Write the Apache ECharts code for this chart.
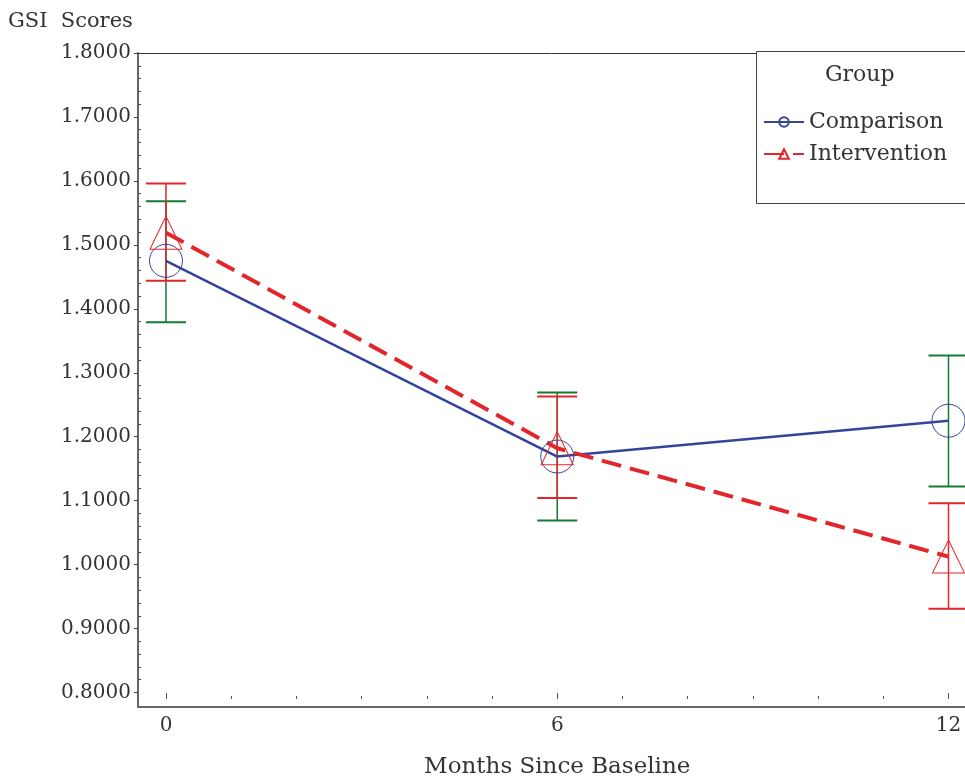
<!DOCTYPE html>
<html>
<head>
	<meta charset="utf-8">
	<script src="https://cdn.jsdelivr.net/npm/echarts@6/dist/echarts.min.js"></script>
</head>
<body style="margin:0;background:#fff;">
	<div id="main" style="width:965px;height:784px;"></div>
	<script type="text/javascript">
        // data
        var months = [0, 6, 12];
        var groupNames = ['Comparison', 'Intervention'];
        var compMean = [1.475, 1.169, 1.225];
        var compLow = [1.379, 1.069, 1.122];
        var compHigh = [1.568, 1.269, 1.327];
        var intMean = [1.519, 1.182, 1.0125];
        var intLow = [1.444, 1.104, 0.931];
        var intHigh = [1.596, 1.263, 1.096];

        var FONT = 'DejaVu Serif';
        var BLUE = '#34449a', RED = '#e3262b', GREEN = '#167a30';

        function pairs(xs, ys) {
            return xs.map(function (x, i) { return [x, ys[i]]; });
        }
        function triples(xs, lo, hi) {
            return xs.map(function (x, i) { return [x, lo[i], hi[i]]; });
        }

        // error bar: stem + two caps
        function renderBar(params, api) {
            var x = api.value(0);
            var pLo = api.coord([x, api.value(1)]);
            var pHi = api.coord([x, api.value(2)]);
            var w = 20;
            var c = api.visual('color');
            return {
                type: 'group',
                children: [
                    {type: 'line', shape: {x1: pHi[0], y1: pHi[1], x2: pLo[0], y2: pLo[1]}, style: {stroke: c, lineWidth: 1.5}},
                    {type: 'line', shape: {x1: pHi[0] - w, y1: pHi[1], x2: pHi[0] + w, y2: pHi[1]}, style: {stroke: c, lineWidth: 2}},
                    {type: 'line', shape: {x1: pLo[0] - w, y1: pLo[1], x2: pLo[0] + w, y2: pLo[1]}, style: {stroke: c, lineWidth: 2}}
                ]
            };
        }

        var myChart = echarts.init(document.getElementById('main'));
        var option = {
            animation: false,
            graphic: [
                {type: 'text', left: 8, top: 11, z: 100, style: {text: 'GSI  Scores', font: '21px "DejaVu Serif"', fill: '#333'}},
                // legend frame runs off the right edge like the original
                {type: 'rect', z: 4, shape: {x: 756.5, y: 51.5, width: 260, height: 152},
                    style: {fill: '#fff', stroke: '#444', lineWidth: 1}},
                {type: 'text', left: 825, top: 64, z: 100, style: {text: 'Group', font: '22px "DejaVu Serif"', fill: '#333'}}
            ],
            legend: {
                data: groupNames,
                orient: 'vertical',
                left: 756,
                top: 51,
                z: 6,
                padding: [60, 10, 39, 7],
                itemGap: 10,
                itemWidth: 40,
                itemHeight: 12,
                textStyle: {fontFamily: FONT, fontSize: 22, color: '#333', lineHeight: 22}
            },
            grid: [
                {left: 138, top: 53, right: 0, bottom: 77},
                {left: 166, top: 53, right: 16.5, bottom: 81},
                {left: 138, top: 53, right: 16.5, bottom: 91.5}
            ],
            xAxis: [
                {gridIndex: 0, type: 'value', min: -0.429, max: 12.253,
                    axisLine: {show: true, onZero: false, lineStyle: {color: '#666', width: 2}},
                    axisTick: {show: false}, axisLabel: {show: false}, splitLine: {show: false}},
                {gridIndex: 1, type: 'value', min: 0, max: 12, interval: 6,
                    axisLine: {show: false},
                    axisTick: {show: true, inside: true, length: 6, lineStyle: {color: '#555'}},
                    minorTick: {show: true, splitNumber: 6, length: 3, lineStyle: {color: '#555'}},
                    axisLabel: {margin: 17, fontFamily: FONT, fontSize: 20, color: '#333'},
                    splitLine: {show: false},
                    name: 'Months Since Baseline', nameLocation: 'middle', nameGap: 57,
                    nameTextStyle: {fontFamily: FONT, fontSize: 23, color: '#333'}},
                {gridIndex: 2, type: 'value', show: false},
                {gridIndex: 0, type: 'value', position: 'top', min: -0.429, max: 12.253,
                    axisLine: {show: true, onZero: false, lineStyle: {color: '#333', width: 1}},
                    axisTick: {show: false}, axisLabel: {show: false}, splitLine: {show: false}}
            ],
            yAxis: [
                {gridIndex: 0, type: 'value', min: 0.7773, max: 1.8,
                    axisLine: {show: true, onZero: false, lineStyle: {color: '#666', width: 2}},
                    axisTick: {show: false}, axisLabel: {show: false}, splitLine: {show: false}},
                {gridIndex: 1, type: 'value', show: false},
                {gridIndex: 2, type: 'value', position: 'left', min: 0.8, max: 1.8, interval: 0.1,
                    axisLine: {show: false, onZero: false},
                    axisTick: {show: true, length: 4, lineStyle: {color: '#444'}},
                    axisLabel: {margin: 7, fontFamily: FONT, fontSize: 20, color: '#333',
                        formatter: function (v) { return v.toFixed(4); }},
                    splitLine: {show: false}},
                {gridIndex: 2, type: 'value', position: 'left', min: 0.8, max: 1.8, interval: 0.1,
                    axisLine: {show: false, onZero: false},
                    axisTick: {show: false, inside: true},
                    minorTick: {show: true, splitNumber: 5, length: 3, lineStyle: {color: '#444'}},
                    axisLabel: {show: false}, splitLine: {show: false}}
            ],
            series: [
                {name: 'compBars', type: 'custom', xAxisIndex: 0, yAxisIndex: 0, z: 1,
                    itemStyle: {color: GREEN}, renderItem: renderBar,
                    data: triples(months, compLow, compHigh)},
                {name: 'intBars', type: 'custom', xAxisIndex: 0, yAxisIndex: 0, z: 1,
                    itemStyle: {color: RED}, renderItem: renderBar,
                    data: triples(months, intLow, intHigh)},
                {name: groupNames[0], type: 'line', xAxisIndex: 0, yAxisIndex: 0, z: 3,
                    symbol: 'circle', symbolSize: 33,
                    lineStyle: {color: BLUE, width: 2.5},
                    itemStyle: {color: 'transparent', borderColor: BLUE, borderWidth: 1},
                    data: pairs(months, compMean)},
                {name: groupNames[1], type: 'line', xAxisIndex: 0, yAxisIndex: 0, z: 3,
                    symbol: 'triangle', symbolSize: [32, 33],
                    lineStyle: {color: RED, width: 4, type: [20, 9]},
                    itemStyle: {color: 'transparent', borderColor: RED, borderWidth: 1},
                    data: pairs(months, intMean)}
            ]
        };
        myChart.setOption(option);
    </script>
</body>
</html>
